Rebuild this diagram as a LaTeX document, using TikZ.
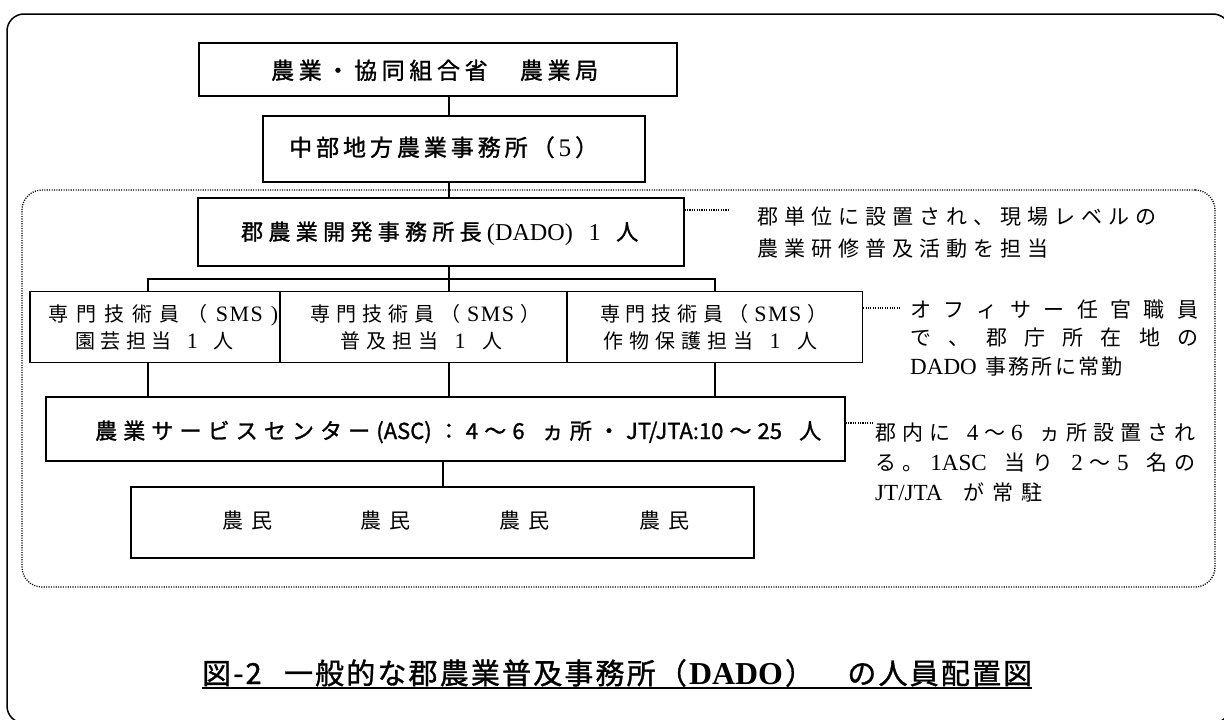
\documentclass[tikz,border=0pt]{standalone}
\usepackage{fontspec}
\setmainfont{Liberation Serif}
\newfontfamily\jp{Noto Sans CJK JP}
\newfontfamily\jpb[FakeBold=1.2]{Noto Sans CJK JP}
\newfontfamily\lat[Scale=1.1]{Liberation Serif}
\makeatletter
\def\spr@stop{\spr@stop}
\def\spr@stopdef{\spr@stop}
\newcommand\spreadto[2]{\hbox to #1pt{\spr@first#2\spr@stop}}
\def\spr@first#1{{#1}\spr@next}
\def\spr@next#1{\def\spr@tmp{#1}\ifx\spr@tmp\spr@stopdef\else\hfil{#1}\expandafter\spr@next\fi}
\makeatother
\newcommand\smsword{\lat S\kern1.5pt M\kern1.5pt S}
\tikzset{
  box/.style 2 args={draw, line width=1.2pt, inner sep=0pt, minimum width=#1pt, minimum height=#2pt},
  conn/.style={line width=1.2pt},
  leader/.style={line width=1.3pt, dash pattern=on 1.1pt off 1.3pt},
  txt/.style={inner sep=0pt, anchor=base west},
  hb/.style={font=\jpb\fontsize{23}{23}\selectfont},
  sm/.style={font=\jp\fontsize{20}{20}\selectfont},
  nt/.style={font=\jp\fontsize{21}{21}\selectfont},
  fm/.style={font=\jp\fontsize{21}{21}\selectfont},
}
\begin{document}
\begin{tikzpicture}[x=1pt,y=-1pt]
\useasboundingbox (0,0) rectangle (1224,720);
% frames
\node[draw, line width=1.5pt, rounded corners=17pt, inner sep=0pt, minimum width=1223pt, minimum height=709pt] (frame) at (618.5,368.5) {};
\node[draw, line width=1.3pt, dash pattern=on 1.1pt off 1.3pt, rounded corners=20pt, inner sep=0pt, minimum width=1193pt, minimum height=397pt] (grp) at (618.5,388.5) {};
% boxes
\node[box={478}{53}] (b1) at (438,69.5) {};
\node[box={382}{66}] (b2) at (454,149) {};
\node[box={486}{68}] (b3) at (441,232) {};
\node[box={250}{71}] (s1) at (155,327) {};
\node[box={287}{71}] (s2) at (423.5,327) {};
\node[box={295}{71}] (s3) at (715,327) {};
\node[box={799}{64}] (asc) at (445.5,429) {};
\node[box={623}{71}] (farm) at (442.5,522.5) {};
% box texts
\node[txt, hb] (t1) at (271,79) {\spreadto{327}{農業・協同組合省　農業局}};
\node[txt, hb] (t2) at (289,156) {\spreadto{309}{中部地方農業事務所（{\lat 5}）}};
\node[txt, font=\jpb\fontsize{22}{22}\selectfont] (t3) at (241,240) {\spreadto{397}{郡農業開発事務所長{\lat(DADO)}{\ }{\lat 1}{\ }人}};
\node[txt, sm] (s1a) at (48,321) {\spreadto{230}{専門技術員（{\smsword}{\lat)}}};
\node[txt, sm] (s1b) at (75,348) {\spreadto{158}{園芸担当{\ }{\lat 1}{\ }人}};
\node[txt, sm] (s2a) at (310,321) {\spreadto{230}{専門技術員（{\smsword}）}};
\node[txt, sm] (s2b) at (340,348) {\spreadto{162}{普及担当{\ }{\lat 1}{\ }人}};
\node[txt, sm] (s3a) at (600,321) {\spreadto{227}{専門技術員（{\smsword}）}};
\node[txt, sm] (s3b) at (603,348) {\spreadto{214}{作物保護担当{\ }{\lat 1}{\ }人}};
\node[txt, font=\jpb\fontsize{22}{22}\selectfont] (ta) at (95,439) {\spreadto{726}{農業サービスセンター{(ASC)}：4〜6{\ }ヵ所・{JT/JTA:10}〜{25}{\ }人}};
\node[txt, fm] (f1) at (222,528) {\spreadto{50}{農民}};
\node[txt, fm] (f2) at (360,528) {\spreadto{50}{農民}};
\node[txt, fm] (f3) at (499,528) {\spreadto{50}{農民}};
\node[txt, fm] (f4) at (639,528) {\spreadto{50}{農民}};
% notes
\node[txt, nt] (na1) at (757,224) {\spreadto{399}{郡単位に設置され、現場レベルの}};
\node[txt, nt] (na2) at (757,256) {\spreadto{291}{農業研修普及活動を担当}};
\node[txt, nt] (nb1) at (910,317) {\spreadto{288}{オフィサー任官職員}};
\node[txt, nt] (nb2) at (910,345) {\spreadto{288}{で、郡庁所在地の}};
\node[txt, nt] (nb3) at (910,374) {\spreadto{212}{{\lat DADO}{\ }事務所に常勤}};
\node[txt, nt] (nc1) at (875,440) {\spreadto{320}{郡内に{\ }{\lat 4}〜{\lat 6}{\ }ヵ所設置され}};
\node[txt, nt] (nc2) at (875,470) {\spreadto{320}{る。{\lat 1ASC}{\ }当り{\ }{\lat 2}〜{\lat 5}{\ }名の}};
\node[txt, nt] (nc3) at (875,500) {\spreadto{167}{{\lat JT/JTA}{\ }が常駐}};
% caption
\node[txt, font=\jpb\fontsize{29}{29}\selectfont] (cap) at (202,684) {\spreadto{830}{図-2{\hskip18pt}一般的な郡農業普及事務所（{\lat\bfseries DADO}）　の人員配置図}};
\draw[line width=1.8pt] ([yshift=-4pt]cap.base west) -- ([yshift=-4pt]cap.base east);
% connector columns
\coordinate (sp) at (449,0);
\coordinate (c1) at (148,0);
\coordinate (c3) at (715,0);
\coordinate (c4) at (443,0);
\coordinate (bus) at (0,279);
\draw[conn] (b1.south -| sp) -- (b2.north -| sp);
\draw[conn] (b2.south -| sp) -- (b3.north -| sp);
\draw[conn] (b3.south -| sp) -- (s2.north -| sp);
\draw[conn] (s1.north -| c1) -- (bus -| c1) -- (bus -| c3) -- (s3.north -| c3);
\draw[conn] (s1.south -| c1) -- (asc.north -| c1);
\draw[conn] (s2.south -| sp) -- (asc.north -| sp);
\draw[conn] (s3.south -| c3) -- (asc.north -| c3);
\draw[conn] (asc.south -| c4) -- (farm.north -| c4);
% leaders
\coordinate (la) at (730,210);
\coordinate (lb) at (900,308);
\coordinate (lc) at (874,423);
\draw[leader] (b3.east |- la) -- (la);
\draw[leader] (s3.east |- lb) -- (lb);
\draw[leader] (asc.east |- lc) -- (lc);
\end{tikzpicture}
\end{document}
